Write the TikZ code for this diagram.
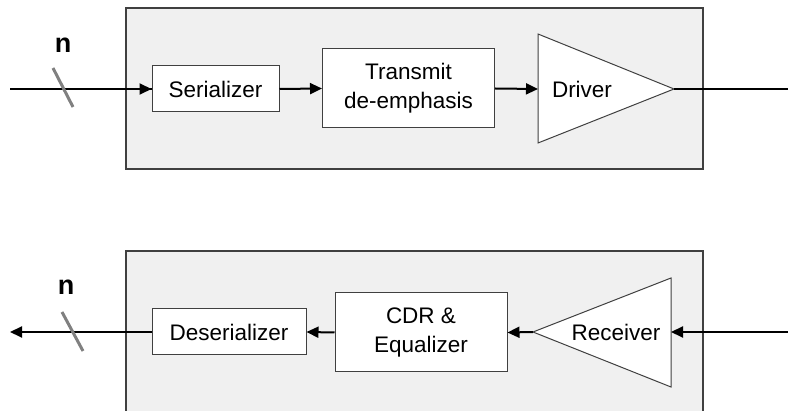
\documentclass[tikz,border=0pt]{standalone}
\usepackage{fontspec}
\setmainfont{Liberation Sans}
\usetikzlibrary{arrows.meta}
\definecolor{panelfill}{HTML}{F0F0F0}
\definecolor{panelline}{HTML}{404040}
\tikzset{
  panel/.style={fill=panelfill, draw=panelline, line width=1.3pt},
  blockbox/.style={draw=panelline, fill=white, line width=1pt, inner sep=0pt, font=\fontsize{22.5}{29}\selectfont, align=center},
  sig/.style={line width=2pt, -{Triangle[length=12pt,width=11pt]}},
  wire/.style={line width=2pt},
  busmark/.style={draw=gray, line width=3pt},
  lbl/.style={font=\bfseries\fontsize{27}{27}\selectfont, inner sep=0pt},
}
\begin{document}
\begin{tikzpicture}[x=1pt,y=-1pt]
\useasboundingbox (0,0) rectangle (788,411);
% top panel
\draw[panel] (126,8) rectangle (703,169);
% bottom panel (continues past bottom edge)
\fill[panelfill] (126,251) rectangle (703,412);
\draw[draw=panelline, line width=1.3pt] (126,412) -- (126,251) -- (703,251) -- (703,412);

% ---- transmitter ----
\node[blockbox, minimum width=127pt, minimum height=46pt] (ser) at (215.5,89) {Serializer};
\node[blockbox, minimum width=172pt, minimum height=79pt] (tde) at (408.5,88.5) {Transmit\\de-emphasis};
\draw[panelline, fill=white, line width=1pt] (538,34) -- (674,89) -- (538,143) -- cycle;
\coordinate (drvin) at (538,89);
\coordinate (drvout) at (674,89);
\node[font=\fontsize{22.5}{22}\selectfont, inner sep=0pt] (drv) at (582,89) {Driver};
\coordinate (tin) at (10,89);
\coordinate (tout) at (788,89);
\draw[wire] (tin) -- (ser.west);
\draw[sig] (ser.west)++(-20,0) -- (ser.west);
\draw[sig] (ser.east) -- (tde.west);
\draw[sig] (tde.east) -- (drvin);
\draw[wire] (drvout) -- (tout);
\coordinate (s1a) at (53,68);
\coordinate (s1b) at (73,107);
\draw[busmark] (s1a) -- (s1b);
\node[lbl] (n1) at (63,45) {n};

% ---- receiver ----
\node[blockbox, minimum width=154pt, minimum height=46pt] (des) at (229,332) {Deserializer};
\node[blockbox, minimum width=172pt, minimum height=79pt] (cdr) at (421,332.5) {CDR \&\\Equalizer};
\draw[panelline, fill=white, line width=1pt] (671,278) -- (533,332) -- (671,387) -- cycle;
\coordinate (rcvout) at (533,332);
\coordinate (rcvin) at (671,332);
\node[font=\fontsize{22.5}{22}\selectfont, inner sep=0pt] (rcv) at (616,332) {Receiver};
\coordinate (rin) at (788,332);
\coordinate (rout) at (10,332);
\draw[sig] (rin) -- (rcvin);
\draw[sig] (rcvout) -- (cdr.east);
\draw[sig] (cdr.west) -- (des.east);
\draw[sig] (des.west) -- (rout);
\coordinate (s2a) at (62,312);
\coordinate (s2b) at (83,351);
\draw[busmark] (s2a) -- (s2b);
\node[lbl] (n2) at (66,287) {n};
\end{tikzpicture}
\end{document}
